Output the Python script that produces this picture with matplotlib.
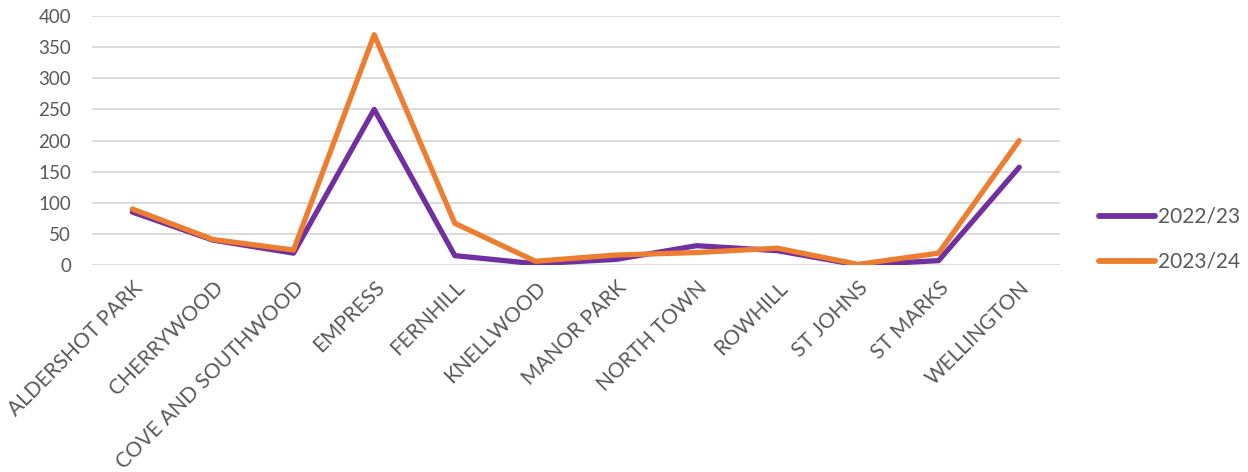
import matplotlib
matplotlib.use("Agg")
import matplotlib.pyplot as plt

wards = ["ALDERSHOT PARK", "CHERRYWOOD", "COVE AND SOUTHWOOD", "EMPRESS",
         "FERNHILL", "KNELLWOOD", "MANOR PARK", "NORTH TOWN", "ROWHILL",
         "ST JOHNS", "ST MARKS", "WELLINGTON"]
y2022 = [85, 40, 19, 250, 15, 2, 9, 31, 23, 0, 7, 157]
y2023 = [90, 41, 24, 370, 67, 6, 16, 20, 27, 1, 19, 200]
yticks = [0, 50, 100, 150, 200, 250, 300, 350, 400]

plt.rcParams["font.family"] = ["Lato", "DejaVu Sans"]
grey = "#595959"

fig = plt.figure(figsize=(12.48, 4.72), dpi=100)
ax = fig.add_axes([0.0737, 0.4386, 0.7753, 0.5274])

x = list(range(len(wards)))
ax.plot(x, y2022, color="#7030A0", lw=3.8, solid_capstyle="round",
        solid_joinstyle="round", label="2022/23", zorder=3)
ax.plot(x, y2023, color="#ED7D31", lw=3.8, solid_capstyle="round",
        solid_joinstyle="round", label="2023/24", zorder=4)

ax.set_xlim(-0.5, len(wards) - 0.5)
ax.set_ylim(0, 400)
ax.set_yticks(yticks)
ax.set_yticklabels([str(v) for v in yticks], fontsize=13.5, color=grey)
ax.set_xticks(x)
ax.set_xticklabels(wards, rotation=45, ha="right", rotation_mode="anchor",
                   fontsize=15, color=grey)
ax.tick_params(axis="both", length=0)
ax.tick_params(axis="x", pad=9)
ax.tick_params(axis="y", pad=15)
ax.grid(axis="y", color="#D9D9D9", lw=1.3, zorder=0)
for s in ax.spines.values():
    s.set_visible(False)

leg = fig.legend(loc="center left", bbox_to_anchor=(0.8806, 0.4926),
                 frameon=False, fontsize=15, handlelength=2.7,
                 handletextpad=0.15, labelspacing=1.2,
                 borderpad=0, borderaxespad=0)
for line in leg.get_lines():
    line.set_linewidth(4.2)
for t in leg.get_texts():
    t.set_color(grey)

fig.savefig("out.png", dpi=100, facecolor="white")
